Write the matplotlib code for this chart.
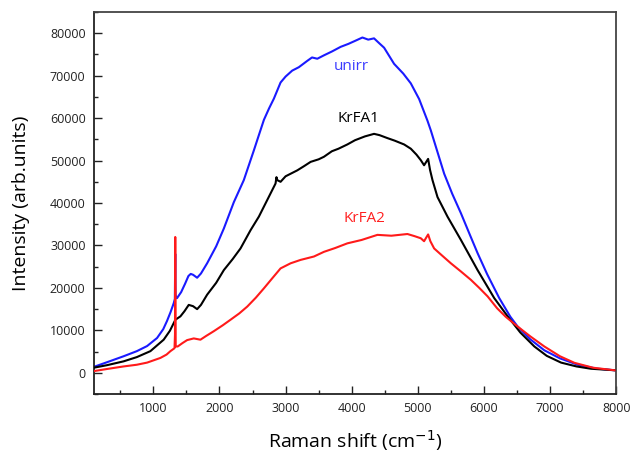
import matplotlib
matplotlib.use("Agg")
import matplotlib.pyplot as plt
from matplotlib.ticker import MultipleLocator

# Raman shift (cm^-1) and intensity (arb. units)
unirr_x = [100, 300, 550, 750, 905, 1056, 1150, 1206, 1260, 1308, 1325, 1331, 1333, 1336, 1345, 1358,
           1420, 1480, 1530, 1565, 1600, 1662, 1720, 1813, 1950, 2066, 2217, 2368, 2520, 2600, 2672,
           2750, 2823, 2924, 3000, 3100, 3200, 3328, 3400, 3480, 3580, 3700, 3833, 3950, 4050, 4162,
           4250, 4338, 4420, 4490, 4641, 4780, 4894, 5020, 5146, 5197, 5399, 5520, 5652, 5780, 5904,
           6050, 6232, 6400, 6510, 6700, 6914, 7150, 7419, 7700, 7975]
unirr_y = [1400, 2500, 3900, 5100, 6300, 8200, 10300, 12200, 14300, 16400, 17400, 28000, 22000, 18500, 17600, 17600,
           19000, 21000, 22800, 23300, 23100, 22400, 23400, 25800, 29800, 34000, 40200, 45400, 52400, 56200, 59600,
           62300, 64600, 68400, 69800, 71200, 72000, 73500, 74300, 74000, 74800, 75700, 76800, 77500, 78200, 79000,
           78500, 78800, 77600, 76600, 72800, 70500, 68200, 64500, 59400, 57100, 46900, 42200, 37600, 32800, 28200,
           23200, 17600, 13200, 10900, 7900, 5300, 3400, 1900, 1000, 600]

krfa1_x = [100, 300, 550, 750, 955, 1156, 1250, 1333, 1409, 1470, 1535, 1600, 1662, 1720, 1813, 1950,
           2066, 2200, 2318, 2470, 2596, 2722, 2848, 2862, 2874, 2924, 3000, 3177, 3280, 3379, 3500,
           3580, 3700, 3800, 3934, 4050, 4200, 4338, 4420, 4540, 4650, 4793, 4894, 4980, 5045, 5095,
           5156, 5185, 5222, 5298, 5449, 5652, 5904, 6156, 6359, 6550, 6763, 6950,
           7167, 7400, 7621, 7975]
krfa1_y = [1200, 1800, 2700, 3700, 5100, 7800, 9900, 12500, 13300, 14500, 16000, 15700, 15000, 16000, 18400, 21200,
           24200, 26800, 29300, 33600, 36800, 40700, 44600, 46100, 45400, 45000, 46300, 47700, 48700, 49700, 50300,
           50900, 52200, 52800, 53800, 54800, 55700, 56300, 56000, 55300, 54700, 53800, 52800, 51400, 50100, 48900,
           50400, 47800, 45400, 41400, 36800, 31300, 24200, 17600, 13300, 9500, 6200, 4000,
           2400, 1500, 950, 600]

krfa2_x = [100, 300, 550, 750, 905, 1106, 1200, 1258, 1320, 1327, 1331, 1334, 1338, 1368, 1440, 1510,
           1611, 1712, 1800, 1914, 2050, 2167, 2300, 2420, 2550, 2672, 2800, 2924, 3076, 3227, 3429,
           3580, 3750, 3934, 4150, 4389, 4600, 4843, 4950, 5045, 5095, 5125, 5156, 5190, 5247, 5340,
           5500, 5650, 5803, 5930, 6056, 6200, 6330, 6510, 6700, 6914, 7150, 7369, 7650, 7975]
krfa2_y = [400, 900, 1500, 1900, 2400, 3500, 4300, 5100, 5800, 9000, 32000, 18000, 6200, 6200, 7000, 7700,
           8100, 7800, 8700, 9800, 11200, 12500, 14000, 15600, 17700, 19900, 22300, 24600, 25800, 26600, 27400,
           28500, 29400, 30500, 31300, 32500, 32300, 32700, 32200, 31700, 31000, 31800, 32600, 31000, 29300, 28000,
           25800, 23900, 21900, 20000, 18000, 15200, 13200, 10900, 8600, 6200, 3900, 2350, 1200, 600]

x_ticks = [1000, 2000, 3000, 4000, 5000, 6000, 7000, 8000]
y_ticks = [0, 10000, 20000, 30000, 40000, 50000, 60000, 70000, 80000]

FONT = "Open Sans"

fig = plt.figure(figsize=(6.30, 4.58), dpi=100)
ax = fig.add_axes([0.149, 0.1397, 0.829, 0.834])

ax.plot(krfa1_x, krfa1_y, color="black", lw=1.5, zorder=3)
ax.plot(unirr_x, unirr_y, color="#1a1aff", lw=1.5, zorder=2)
ax.plot(krfa2_x, krfa2_y, color="#ff1a1a", lw=1.5, zorder=4)

ax.text(3995, 72100, "unirr", color="#3a3aff", fontsize=11, family=FONT, ha="center", va="center")
ax.text(4106, 59800, "KrFA1", color="black", fontsize=11, family=FONT, ha="center", va="center")
ax.text(4197, 36400, "KrFA2", color="#ff2020", fontsize=11, family=FONT, ha="center", va="center")

ax.set_xlim(100, 8000)
ax.set_ylim(-5000, 85000)
ax.set_xticks(x_ticks)
ax.set_yticks(y_ticks)
ax.xaxis.set_minor_locator(MultipleLocator(500))
ax.yaxis.set_minor_locator(MultipleLocator(5000))
ax.tick_params(which="major", direction="in", length=6, width=1.0, labelsize=9, pad=6, colors="#222222")
ax.tick_params(which="minor", direction="in", length=3, width=1.0, colors="#222222")
for lab in ax.get_xticklabels() + ax.get_yticklabels():
    lab.set_family(FONT)

for s in ["left", "bottom"]:
    ax.spines[s].set_linewidth(1.3)
    ax.spines[s].set_color("#222222")
for s in ["top", "right"]:
    ax.spines[s].set_linewidth(1.3)
    ax.spines[s].set_color("#444444")

ax.set_xlabel("Raman shift (cm$^{-1}$)", fontsize=14, family=FONT, labelpad=9)
ax.set_ylabel("Intensity (arb.units)", fontsize=14, family=FONT, labelpad=14)

fig.savefig("out.png", dpi=100)
